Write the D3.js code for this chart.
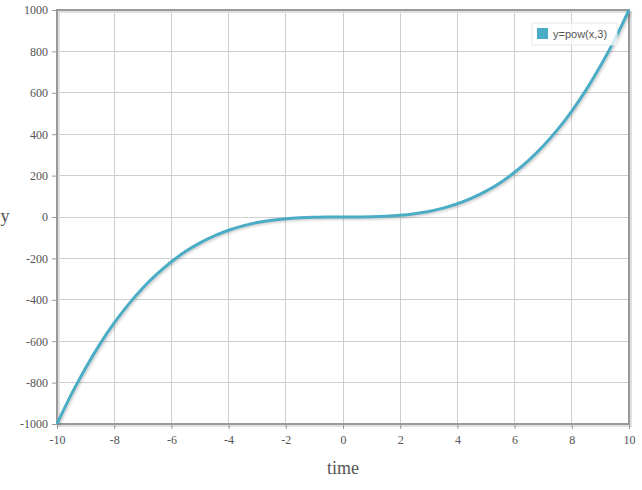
<!DOCTYPE html>
<html><head><meta charset="utf-8">
<script src="https://cdn.jsdelivr.net/npm/d3@7"></script>
<style>body{margin:0;background:#fff}svg{display:block}.tick text{font-family:'Liberation Serif','Times New Roman',serif;font-size:12px;fill:#555}</style>
</head><body>
<svg id="c" width="642" height="490"></svg>
<script>
const xValues = [-10,-9.5,-9,-8.5,-8,-7.5,-7,-6.5,-6,-5.5,-5,-4.5,-4,-3.5,-3,-2.5,-2,-1.5,-1,-0.5,0,0.5,1,1.5,2,2.5,3,3.5,4,4.5,5,5.5,6,6.5,7,7.5,8,8.5,9,9.5,10];
const yValues = [-1000,-857,-729,-614,-512,-422,-343,-275,-216,-166,-125,-91,-64,-43,-27,-16,-8,-3.4,-1,-0.1,0,0.1,1,3.4,8,16,27,43,64,91,125,166,216,275,343,422,512,614,729,857,1000];
const xTicks = [-10,-8,-6,-4,-2,0,2,4,6,8,10];
const yTicks = [-1000,-800,-600,-400,-200,0,200,400,600,800,1000];
const seriesName = "y=pow(x,3)";
const xTitle = "time", yTitle = "y";

const svg = d3.select("#c");
const L=57, R=629, T=10, B=424;
const x = d3.scaleLinear().domain([-10,10]).range([L,R]);
const y = d3.scaleLinear().domain([-1000,1000]).range([B,T]);
const color = "#4bacc6";
const fmt = d => String(d);

const defs = svg.append("defs");
const f = defs.append("filter").attr("id","sh").attr("x","-10%").attr("y","-10%").attr("width","120%").attr("height","120%");
f.append("feGaussianBlur").attr("in","SourceGraphic").attr("stdDeviation",1);

// grid
svg.append("g").selectAll("line").data(xTicks).join("line")
  .attr("x1",d=>x(d)).attr("x2",d=>x(d)).attr("y1",T).attr("y2",B)
  .attr("stroke","#cfcfcf").attr("stroke-width",1).attr("shape-rendering","crispEdges");
svg.append("g").selectAll("line").data(yTicks).join("line")
  .attr("x1",L).attr("x2",R).attr("y1",d=>y(d)).attr("y2",d=>y(d))
  .attr("stroke","#cfcfcf").attr("stroke-width",1).attr("shape-rendering","crispEdges");

// border shadow
svg.append("rect").attr("x",L+2).attr("y",T+2).attr("width",R-L).attr("height",B-T)
  .attr("fill","none").attr("stroke","#e0e0e0").attr("stroke-width",2);
svg.append("rect").attr("x",L).attr("y",T).attr("width",R-L).attr("height",B-T)
  .attr("fill","none").attr("stroke","#999").attr("stroke-width",2);

// axes
const yAxis = d3.axisLeft(y).tickValues(yTicks).tickFormat(fmt).tickSize(4).tickPadding(4);
const gy = svg.append("g").attr("transform",`translate(${L-1},0)`).call(yAxis);
const xAxis = d3.axisBottom(x).tickValues(xTicks).tickFormat(fmt).tickSize(4).tickPadding(6);
const gx = svg.append("g").attr("transform",`translate(0,${B+1})`).call(xAxis);
[gx,gy].forEach(g=>{
  g.attr("font-family",null).attr("font-size",null);
  g.select(".domain").remove();
  g.selectAll(".tick line").attr("stroke","#999");
  g.selectAll("text").attr("fill","#555");
});

svg.append("text").attr("x",(L+R)/2).attr("y",474).attr("text-anchor","middle")
  .style("font-family","'Liberation Serif',serif").style("font-size","18px").attr("fill","#555").text(xTitle);
svg.append("text").attr("x",5).attr("y",222).attr("text-anchor","middle")
  .style("font-family","'Liberation Serif',serif").style("font-size","18px").attr("fill","#555").text(yTitle);

// line
const pts = xValues.map((v,i)=>[v,yValues[i]]);
const line = d3.line().x(d=>x(d[0])).y(d=>y(d[1])).curve(d3.curveCatmullRom);
svg.append("path").datum(pts).attr("d",line).attr("fill","none")
  .attr("stroke","rgba(0,0,0,0.18)").attr("stroke-width",3).attr("transform","translate(1.5,1.5)").attr("filter","url(#sh)");
svg.append("path").datum(pts).attr("d",line).attr("fill","none")
  .attr("stroke",color).attr("stroke-width",3);

// legend
const lg = svg.append("g");
lg.append("rect").attr("x",532).attr("y",23).attr("width",85).attr("height",22)
  .attr("fill","rgba(255,255,255,0.75)").attr("stroke","#e6e6e6");
lg.append("rect").attr("x",537).attr("y",28).attr("width",11).attr("height",11).attr("fill",color);
lg.append("text").attr("x",553).attr("y",38).style("font-family","'Liberation Sans',Arial,sans-serif")
  .style("font-size","11px").attr("fill","#555").text(seriesName);
</script>
</body></html>
